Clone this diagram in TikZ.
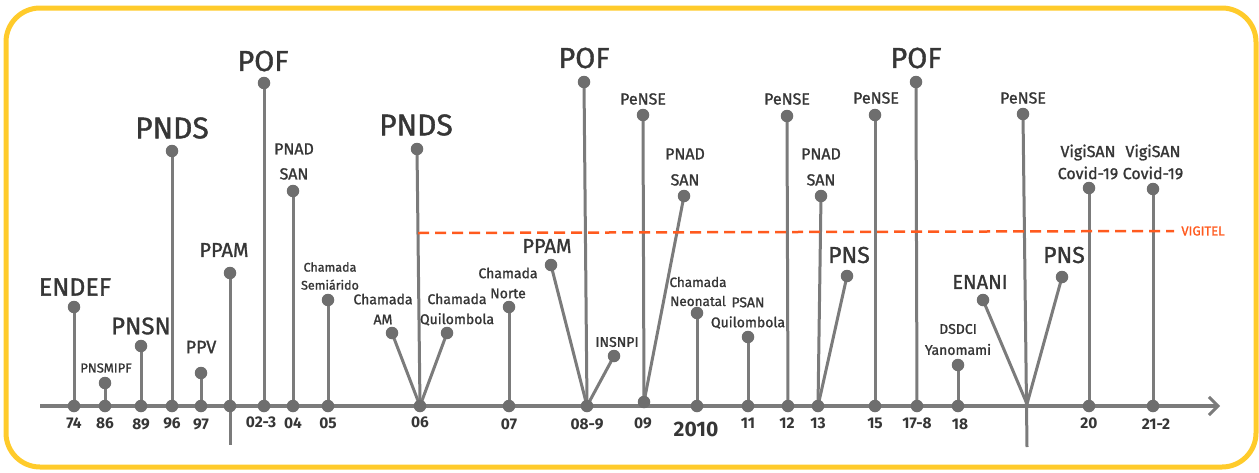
\documentclass[tikz,border=0pt]{standalone}
\usepackage{fontspec}
\setmainfont{Fira Sans}[UprightFeatures={FakeBold=1.3}]
\usetikzlibrary{arrows.meta,backgrounds}
\definecolor{bord}{HTML}{FFCB2B}
\definecolor{linegray}{HTML}{7B7B7B}
\definecolor{dotgray}{HTML}{6E6E6E}
\definecolor{txt}{HTML}{363636}
\definecolor{vig}{HTML}{FF5A1E}
\tikzset{
  dot/.style={circle,fill=dotgray,inner sep=0pt,minimum size=12.5pt},
  stem/.style={draw=linegray,line width=3pt},
  axisline/.style={draw=linegray,line width=4pt,-{Straight Barb[length=9pt,width=18pt,line width=3pt]}},
  lab/.style={text=txt,inner sep=0pt,align=center},
  huge/.style={lab,font=\fontsize{29}{32}\selectfont},
  large/.style={lab,font=\fontsize{23}{26}\selectfont},
  mid/.style={lab,font=\fontsize{20}{24}\selectfont},
  med/.style={lab,font=\fontsize{16}{25}\selectfont},
  sml/.style={lab,font=\fontsize{14}{20}\selectfont},
  tiny/.style={lab,font=\fontsize{12.5}{18}\selectfont},
  yr/.style={lab,font=\bfseries\fontsize{15.5}{18}\selectfont},
}
\begin{document}
\begin{tikzpicture}[x=1pt,y=-1pt]
\useasboundingbox (0,0) rectangle (1259,472);
% axis end points
\coordinate (axL) at (40,406);
\coordinate (axR) at (1220,406);
\coordinate (lo230) at (230,445);
\coordinate (b19) at (1027,404);
\coordinate (lo19) at (1027,447);
\coordinate (vgS) at (418,233);
% base dots
\node[dot] (b74) at (74,406) {};
\node[dot] (b86) at (105,406) {};
\node[dot] (b89) at (141,406) {};
\node[dot] (b96) at (172,406) {};
\node[dot] (b97) at (201,406) {};
\node[dot] (bppam) at (230,406) {};
\node[dot] (b023) at (264,406) {};
\node[dot] (b04) at (293,406) {};
\node[dot] (b05) at (328,406) {};
\node[dot] (b06) at (420,406) {};
\node[dot] (b07) at (509,406) {};
\node[dot] (b089) at (587,406) {};
\node[dot] (b09) at (644,402) {};
\node[dot] (b10) at (697,406) {};
\node[dot] (b11) at (748,406) {};
\node[dot] (b12) at (788,406) {};
\node[dot] (b13) at (818,406) {};
\node[dot] (b15) at (875,406) {};
\node[dot] (b178) at (917,406) {};
\node[dot] (b18) at (958,406) {};
\node[dot] (b20) at (1089,406) {};
\node[dot] (b212) at (1153,406) {};
% top dots
\node[dot] (t74) at (74,307) {};
\node[dot] (t86) at (105,383) {};
\node[dot] (t89) at (141,346) {};
\node[dot] (t96) at (172,151) {};
\node[dot] (t97) at (201,373) {};
\node[dot] (tppam) at (230,273) {};
\node[dot] (t023) at (264,83) {};
\node[dot] (t04) at (293,191) {};
\node[dot] (t05) at (328,300) {};
\node[dot] (t06a) at (417,149) {};
\node[dot] (t06b) at (392,333) {};
\node[dot] (t06c) at (447,333) {};
\node[dot] (t07) at (509,307) {};
\node[dot] (t089a) at (584,82) {};
\node[dot] (t089b) at (551,265) {};
\node[dot] (t089c) at (614,356) {};
\node[dot] (t09a) at (643,115) {};
\node[dot] (t09b) at (684,196) {};
\node[dot] (t10) at (697,313) {};
\node[dot] (t11) at (748,337) {};
\node[dot] (t12) at (787,116) {};
\node[dot] (t13a) at (821,196) {};
\node[dot] (t13b) at (847,276) {};
\node[dot] (t15) at (875,115) {};
\node[dot] (t178) at (916,82) {};
\node[dot] (t18) at (958,365) {};
\node[dot] (t19a) at (1023,114) {};
\node[dot] (t19b) at (983,300) {};
\node[dot] (t19c) at (1062,277) {};
\node[dot] (t20) at (1089,188) {};
\node[dot] (t212) at (1153,189) {};
% labels
\node[lab,font=\fontsize{25}{28}\selectfont] (lENDEF) at (75,287) {ENDEF};
\node[lab,font=\fontsize{13}{16}\selectfont] (lPNSMIPF) at (106,368) {PNSMIPF};
\node[lab,font=\fontsize{24}{27}\selectfont] (lPNSN) at (141,326) {PNSN};
\node[huge,font=\fontsize{30}{33}\selectfont] (lPNDS1) at (172,128) {PNDS};
\node[lab,font=\fontsize{18}{21}\selectfont] (lPPV) at (201,347) {PPV};
\node[mid] (lPPAM1) at (224,250) {PPAM};
\node[huge] (lPOF1) at (263,61) {POF};
\node[med] (lPNAD1) at (294,161.5) {PNAD\\SAN};
\node[tiny] (lSemi) at (330,276) {Chamada\\Semiárido};
\node[sml] (lAM) at (383,309) {Chamada\\AM};
\node[huge,font=\fontsize{30}{33}\selectfont] (lPNDS2) at (416,125) {PNDS};
\node[sml] (lQuil) at (457,309.5) {Chamada\\Quilombola};
\node[sml] (lNorte) at (508,283) {Chamada\\Norte};
\node[mid] (lPPAM2) at (547,246) {PPAM};
\node[huge] (lPOF2) at (584,58) {POF};
\node[sml] (lINSNPI) at (617,342) {INSNPI};
\node[med] (lPeNSE1) at (643,99) {PeNSE};
\node[med,font=\fontsize{16}{26}\selectfont] (lPNAD2) at (685,167) {PNAD\\SAN};
\node[lab,font=\fontsize{13.5}{19}\selectfont] (lNeo) at (698,291.5) {Chamada\\Neonatal};
\node[sml] (lPSAN) at (748,313) {PSAN\\Quilombola};
\node[med] (lPeNSE2) at (787,99) {PeNSE};
\node[med,font=\fontsize{16}{26}\selectfont] (lPNAD3) at (821,167) {PNAD\\SAN};
\node[large] (lPNS1) at (849,255) {PNS};
\node[med] (lPeNSE3) at (876,98) {PeNSE};
\node[huge] (lPOF3) at (916,58) {POF};
\node[lab,font=\fontsize{14}{21}\selectfont] (lDSDCI) at (958,339.5) {DSDCI\\Yanomami};
\node[mid] (lENANI) at (980,282) {ENANI};
\node[med] (lPeNSE4) at (1023,98) {PeNSE};
\node[large] (lPNS2) at (1064,255) {PNS};
\node[med,font=\fontsize{16}{22}\selectfont] (lVig1) at (1088,162) {VigiSAN\\Covid-19};
\node[med,font=\fontsize{16}{22}\selectfont] (lVig2) at (1153,162) {VigiSAN\\Covid-19};
\node[lab,text=vig,font=\fontsize{13}{16}\selectfont,inner xsep=7pt] (lVIGITEL) at (1203,231) {VIGITEL};
% year labels
\node[yr] (y74) at (74,423) {74};
\node[yr] (y86) at (105,423) {86};
\node[yr] (y89) at (141,424) {89};
\node[yr] (y96) at (172,423) {96};
\node[yr] (y97) at (201,424) {97};
\node[yr] (y023) at (261,422) {02-3};
\node[yr] (y04) at (293,423) {04};
\node[yr] (y05) at (328,423) {05};
\node[yr] (y06) at (420,422) {06};
\node[yr] (y07) at (509,424) {07};
\node[yr] (y089) at (587,424) {08-9};
\node[yr] (y09) at (643,423) {09};
\node[yr,font=\bfseries\fontsize{21}{24}\selectfont] (y10) at (696,429) {2010};
\node[yr] (y11) at (748,423) {11};
\node[yr] (y12) at (787,423) {12};
\node[yr] (y13) at (818,423) {13};
\node[yr] (y15) at (875,423) {15};
\node[yr] (y178) at (917,423) {17-8};
\node[yr] (y18) at (960,424) {18};
\node[yr] (y20) at (1089,423) {20};
\node[yr] (y212) at (1156,424) {21-2};
% connectors behind the dots
\begin{scope}[on background layer]
\draw[bord,line width=5pt,rounded corners=34pt] (6,8) rectangle (1256,467);
\draw[axisline] (axL) -- (axR);
\draw[stem] (b74.center) -- (t74.center);
\draw[stem] (b86.center) -- (t86.center);
\draw[stem] (b89.center) -- (t89.center);
\draw[stem] (b96.center) -- (t96.center);
\draw[stem] (b97.center) -- (t97.center);
\draw[stem] (tppam.center) -- (lo230);
\draw[stem] (b023.center) -- (t023.center);
\draw[stem] (b04.center) -- (t04.center);
\draw[stem] (b05.center) -- (t05.center);
\draw[stem] (b06.center) -- (t06a.center);
\draw[stem] (b06.center) -- (t06b.center);
\draw[stem] (b06.center) -- (t06c.center);
\draw[stem] (b07.center) -- (t07.center);
\draw[stem] (b089.center) -- (t089a.center);
\draw[stem] (b089.center) -- (t089b.center);
\draw[stem] (b089.center) -- (t089c.center);
\draw[stem] (b09.center) -- (t09a.center);
\draw[stem] (b09.center) -- (t09b.center);
\draw[stem] (b10.center) -- (t10.center);
\draw[stem] (b11.center) -- (t11.center);
\draw[stem] (b12.center) -- (t12.center);
\draw[stem] (b13.center) -- (t13a.center);
\draw[stem] (b13.center) -- (t13b.center);
\draw[stem] (b15.center) -- (t15.center);
\draw[stem] (b178.center) -- (t178.center);
\draw[stem] (b18.center) -- (t18.center);
\draw[stem] (t19a.center) -- (lo19);
\draw[stem] (b19) -- (t19b.center);
\draw[stem] (b19) -- (t19c.center);
\draw[stem] (b20.center) -- (t20.center);
\draw[stem] (b212.center) -- (t212.center);
\end{scope}
\draw[vig,line width=2.5pt,dash pattern=on 11pt off 6pt] (vgS) -- (lVIGITEL.west);
\end{tikzpicture}
\end{document}
